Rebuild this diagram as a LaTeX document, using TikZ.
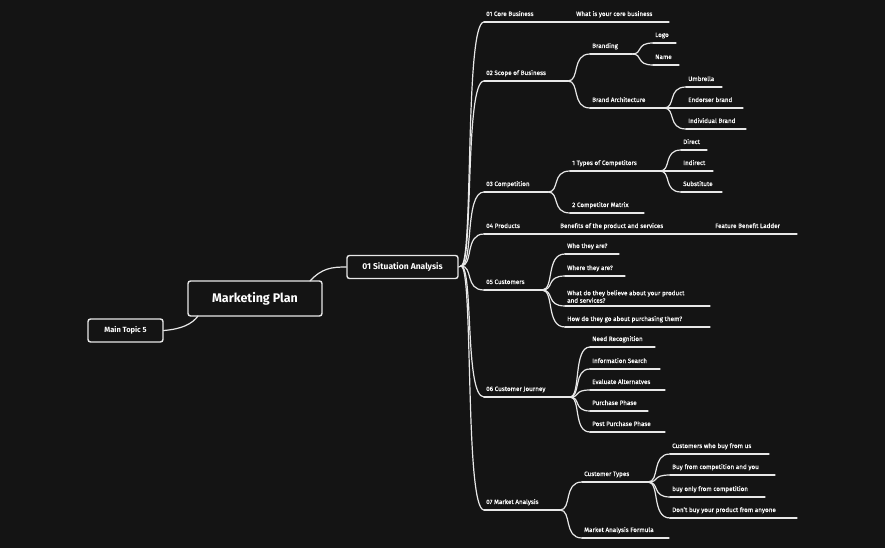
\documentclass[tikz,border=0pt]{standalone}
\usepackage{fontspec}
\setmainfont{Fira Sans}
\usetikzlibrary{calc}
\definecolor{bg}{HTML}{141414}
\definecolor{ln}{HTML}{E8E8E8}
\tikzset{
  lbl/.style={text=white,font=\fontsize{6.3}{7.5}\selectfont\addfontfeature{FakeBold=0.4},anchor=base west,inner sep=0},
  rule/.style={draw=ln,line width=1.2pt,line cap=round},
  box/.style={draw=ln,line width=1.4pt,rounded corners=2.5pt,fill=bg,text=white,font=\bfseries,inner sep=0},
}
\newcommand{\topic}[5]{%
  \coordinate (#1-s) at (#2-2,#3);
  \coordinate (#1-e) at (#4,#3);
  \node[lbl] (#1) at (#2,#3-6) {#5};
  \draw[rule] (#1-s) -- (#1-e);}
\newcommand{\link}[2]{%
  \draw[rule] let \p1=(#1), \p2=(#2) in (\p1) .. controls (\x1+0.55*\x2-0.55*\x1,\y1) and (\x1+0.15*\x2-0.15*\x1,\y2) .. (\p2);}
\begin{document}
\begin{tikzpicture}[x=1pt,y=-1pt]
\fill[bg] (0,0) rectangle (885,548);
\useasboundingbox (0,0) rectangle (885,548);
% boxes
\node[box,minimum width=111,minimum height=23] (sa) at (402.5,267) {\fontsize{8.5}{10}\selectfont 01 Situation Analysis};
\node[box,minimum width=134,minimum height=35] (mp) at (255,298.5) {\fontsize{12.5}{14}\selectfont Marketing Plan};
\node[box,minimum width=75,minimum height=23] (mt) at (125.5,330.5) {\fontsize{7.5}{9}\selectfont Main Topic 5};
\coordinate (mp-t) at (310,281);
\coordinate (mp-b) at (198,316);
\draw[rule] (mp-t) .. controls (322,268) and (332,267) .. (sa.west);
\draw[rule] (mt.east) .. controls (182,329) and (192,324) .. (mp-b);
\coordinate (tr) at (461,266);
\draw[rule] (sa.east) -- (tr);
% level 1
\topic{a}{486}{22}{669}{01 Core Business}
\topic{b}{486}{81}{568}{02 Scope of Business}
\topic{c}{486}{192}{548}{03 Competition}
\topic{d}{486}{234}{797}{04 Products}
\topic{e}{486}{290}{542}{05 Customers}
\topic{f}{486}{397}{570}{06 Customer Journey}
\topic{g}{486}{510}{560}{07 Market Analysis}
\foreach \t in {a,b,c,d,e,f,g}{\link{tr}{\t-s}}
\node[lbl] (a1) at (576,16) {What is your core business};
\node[lbl] (d1) at (560,228) {Benefits of the product and services};
\node[lbl] (d2) at (715,228) {Feature Benefit Ladder};
% 02
\topic{b1}{592}{54}{632}{Branding}
\topic{b2}{592}{108}{664}{Brand Architecture}
\link{b-e}{b1-s}\link{b-e}{b2-s}
\topic{b11}{655}{43}{676}{Logo}
\topic{b12}{655}{65}{679}{Name}
\link{b1-e}{b11-s}\link{b1-e}{b12-s}
\topic{b21}{688}{87}{722}{Umbrella}
\topic{b22}{688}{108}{743}{Endorser brand}
\topic{b23}{688}{129}{746}{Individual Brand}
\link{b2-e}{b21-s}\link{b2-e}{b22-s}\link{b2-e}{b23-s}
% 03
\topic{c1}{572}{171}{660}{1 Types of Competitors}
\topic{c2}{572}{213}{644}{2 Competitor Matrix}
\link{c-e}{c1-s}\link{c-e}{c2-s}
\topic{c11}{683}{150}{707}{Direct}
\topic{c12}{683}{171}{713}{Indirect}
\topic{c13}{683}{192}{722}{Substitute}
\link{c1-e}{c11-s}\link{c1-e}{c12-s}\link{c1-e}{c13-s}
% 05
\topic{e1}{567}{254}{619}{Who they are?}
\topic{e2}{567}{276}{625}{Where they are?}
\topic{e3}{567}{306}{710}{}
\node[lbl,align=left,anchor=south west] at (567,303) {What do they believe about your product\\and services?};
\topic{e4}{567}{327}{710}{How do they go about purchasing them?}
\foreach \t in {e1,e2,e3,e4}{\link{e-e}{\t-s}}
% 06
\topic{f1}{592}{347}{655}{Need Recognition}
\topic{f2}{592}{369}{660}{Information Search}
\topic{f3}{592}{390}{665}{Evaluate Alternatves}
\topic{f4}{592}{411}{648}{Purchase Phase}
\topic{f5}{592}{432}{665}{Post Purchase Phase}
\foreach \t in {f1,f2,f3,f4,f5}{\link{f-e}{\t-s}}
% 07
\topic{g1}{584}{482}{648}{Customer Types}
\topic{g2}{584}{538}{669}{Market Analysis Formula}
\link{g-e}{g1-s}\link{g-e}{g2-s}
\topic{g11}{672}{454}{769}{Customers who buy from us}
\topic{g12}{672}{475}{775}{Buy from competition and you}
\topic{g13}{672}{497}{765}{buy only from competition}
\topic{g14}{672}{518}{797}{Don't buy your product from anyone}
\foreach \t in {g11,g12,g13,g14}{\link{g1-e}{\t-s}}
\end{tikzpicture}
\end{document}
